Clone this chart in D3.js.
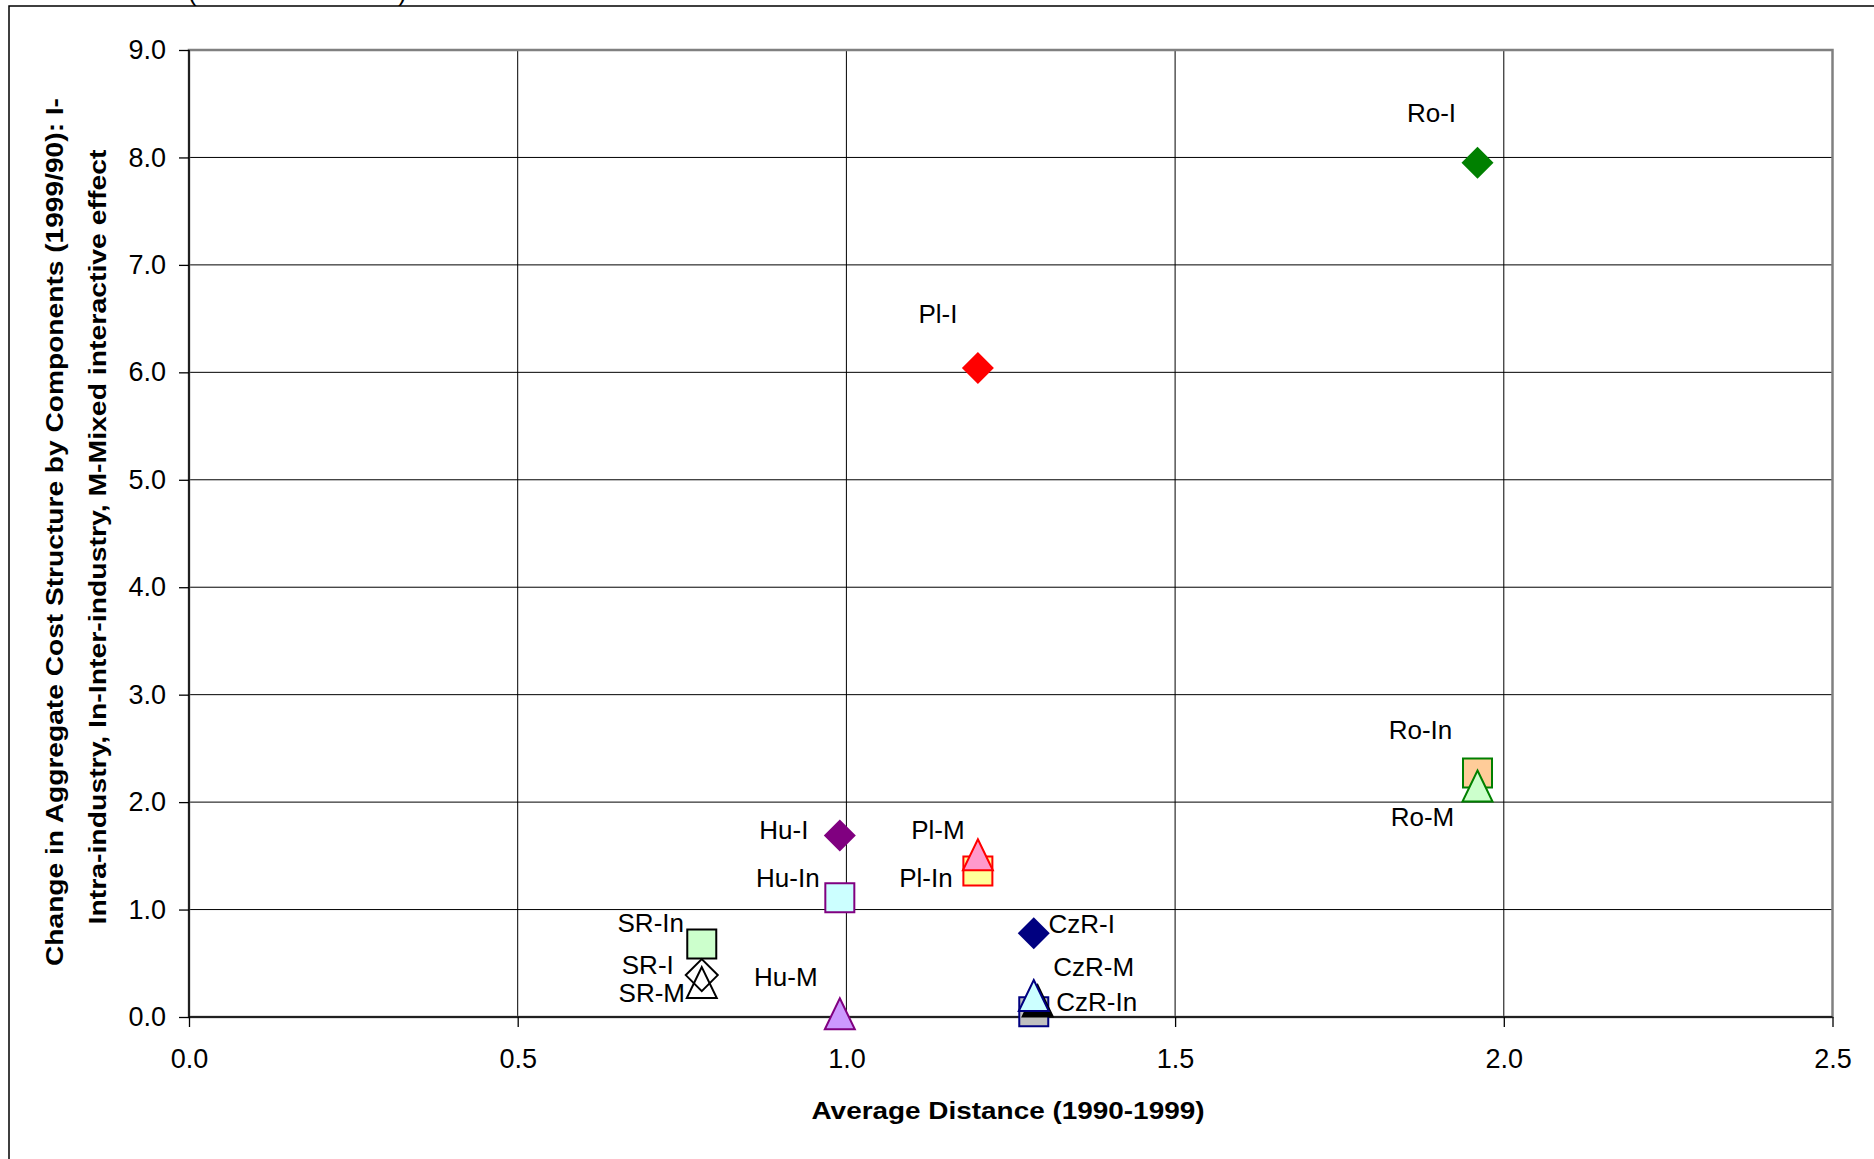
<!DOCTYPE html>
<html>
<head>
<meta charset="utf-8">
<script src="https://cdn.jsdelivr.net/npm/d3@7"></script>
<style>
  html, body { margin: 0; padding: 0; background: #fff; }
  svg { display: block; font-family: "Liberation Sans", Arial, sans-serif; }
</style>
</head>
<body>
<svg id="chart" width="1874" height="1159"></svg>
<script>
// ---- data ----
const pointLabels = ["Ro-In", "Pl-In", "Hu-In", "SR-In", "CzR-In",
                     "Ro-I", "Pl-I", "Hu-I", "SR-I", "CzR-I",
                     "", "Ro-M", "Pl-M", "Hu-M", "SR-M", "CzR-M"];
const xValues = [1.96, 1.20, 0.99, 0.78, 1.285,
                 1.96, 1.20, 0.99, 0.78, 1.285,
                 1.291, 1.96, 1.20, 0.99, 0.78, 1.285];
const yValues = [2.27, 1.36, 1.11, 0.68, 0.05,
                 7.95, 6.04, 1.69, 0.39, 0.78,
                 0.15, 2.15, 1.51, 0.03, 0.32, 0.20];
const markerTypes = ["square", "square", "square", "square", "square",
                     "diamond", "diamond", "diamond", "diamond", "diamond",
                     "triangle", "triangle", "triangle", "triangle", "triangle", "triangle"];
const xTicks = [0.0, 0.5, 1.0, 1.5, 2.0, 2.5];
const yTicks = [0, 1, 2, 3, 4, 5, 6, 7, 8, 9];
const xTitle = "Average Distance (1990-1999)";
const yTitleLines = ["Change in Aggregate Cost Structure by Components (1999/90): I-",
                     "Intra-industry, In-Inter-industry, M-Mixed interactive effect"];

// ---- styles (separate from data) ----
const markerFill = ["#FFCC99", "#FFFF99", "#CCFFFF", "#CCFFCC", "#C0C0C0",
                    "#008000", "#FF0000", "#800080", "none", "#000080",
                    "#000000", "#CCFFCC", "#FF99CC", "#CC99FF", "none", "#CCFFFF"];
const markerStroke = ["#008000", "#FF0000", "#800080", "#000000", "#000080",
                      "#008000", "#FF0000", "#800080", "#000000", "#000080",
                      "#000000", "#008000", "#FF0000", "#800080", "#000000", "#000080"];
// label offsets from marker centre, in pixels
const labelOffsets = [[-57, -43], [-52, 7], [-52, -20], [-51, -21], [63, -10],
                      [-46, -50], [-40, -54], [-56, -6], [-54, -10], [48, -10],
                      [0, 0], [-55, 31], [-40, -25], [-54, -37], [-50, 10], [60, -29]];

// ---- layout ----
const svg = d3.select("#chart");
const plot = { left: 189, right: 1832.5, top: 50, bottom: 1017 };

const x = d3.scaleLinear().domain([0, 2.5]).range([plot.left, plot.right]);
const y = d3.scaleLinear().domain([0, 9]).range([plot.bottom, plot.top]);

// outer chart frame (extends beyond the view)
svg.append("rect").attr("x", 9).attr("y", 6).attr("width", 1900).attr("height", 1200)
  .attr("fill", "none").attr("stroke", "#000").attr("stroke-width", 1.5);

// cut-off caption above the frame
svg.append("text").attr("x", 188).attr("y", 0.5).attr("font-size", 26).text("(");
svg.append("text").attr("x", 398).attr("y", 0.5).attr("font-size", 26).text(")");

// gridlines
svg.append("g").selectAll("line").data(yTicks.filter(d => d > 0 && d < 9)).join("line")
  .attr("x1", plot.left).attr("x2", plot.right)
  .attr("y1", d => y(d)).attr("y2", d => y(d))
  .attr("stroke", "#000").attr("stroke-width", 1);
svg.append("g").selectAll("line").data(xTicks.filter(d => d > 0 && d < 2.5)).join("line")
  .attr("y1", plot.top).attr("y2", plot.bottom)
  .attr("x1", d => x(d)).attr("x2", d => x(d))
  .attr("stroke", "#000").attr("stroke-width", 1);

// plot-area border
svg.append("rect").attr("x", plot.left).attr("y", plot.top)
  .attr("width", plot.right - plot.left).attr("height", plot.bottom - plot.top)
  .attr("fill", "none").attr("stroke", "#808080").attr("stroke-width", 2.5);

// axes
const yAxis = d3.axisLeft(y).tickValues(yTicks).tickFormat(d3.format(".1f"))
  .tickSize(10).tickPadding(13);
const gy = svg.append("g").attr("transform", `translate(${plot.left},0)`).call(yAxis);
const xAxis = d3.axisBottom(x).tickValues(xTicks).tickFormat(d3.format(".1f"))
  .tickSize(10).tickPadding(22);
const gx = svg.append("g").attr("transform", `translate(0,${plot.bottom})`).call(xAxis);
[gx, gy].forEach(g => {
  g.select(".domain").attr("stroke", "#000").attr("stroke-width", 1.5);
  g.selectAll(".tick line").attr("stroke", "#000").attr("stroke-width", 1.3);
  g.selectAll(".tick text").attr("font-size", 27).attr("fill", "#000")
    .attr("font-family", "'Liberation Sans', Arial, sans-serif");
});
gx.select(".domain").attr("d", `M${plot.left},0H${plot.right}`);
gy.select(".domain").attr("d", `M0,${plot.top}V${plot.bottom}`);

// axis titles
svg.append("text").attr("x", 1008).attr("y", 1119)
  .attr("text-anchor", "middle").attr("font-size", 24).attr("font-weight", "bold")
  .attr("textLength", 393).attr("lengthAdjust", "spacingAndGlyphs")
  .text(xTitle);
const yTitlePos = [{ cx: 63, cy: 532, len: 868 }, { cx: 106, cy: 537, len: 775 }];
yTitleLines.forEach((t, i) => {
  const p = yTitlePos[i];
  svg.append("text")
    .attr("transform", `translate(${p.cx},${p.cy}) rotate(-90)`)
    .attr("text-anchor", "middle").attr("font-size", 24).attr("font-weight", "bold")
    .attr("textLength", p.len).attr("lengthAdjust", "spacingAndGlyphs")
    .text(t);
});

// markers
const shapePath = {
  square: "M-14.5,-14.5H14.5V14.5H-14.5Z",
  diamond: "M0,-16L16,0L0,16L-16,0Z",
  triangle: "M0,-15.5L15,15.5L-15,15.5Z"
};
const idx = d3.range(pointLabels.length);
svg.append("g").selectAll("path").data(idx).join("path")
  .attr("transform", i => `translate(${x(xValues[i])},${y(yValues[i])})`)
  .attr("d", i => shapePath[markerTypes[i]])
  .attr("fill", i => markerFill[i])
  .attr("stroke", i => markerStroke[i])
  .attr("stroke-width", i => markerTypes[i] === "diamond" && markerFill[i] !== "none" ? 0 : 2);

// data labels
svg.append("g").selectAll("text").data(idx.filter(i => pointLabels[i] !== "")).join("text")
  .attr("x", i => x(xValues[i]) + labelOffsets[i][0])
  .attr("y", i => y(yValues[i]) + labelOffsets[i][1])
  .attr("dy", "0.36em")
  .attr("text-anchor", "middle").attr("font-size", 26).attr("fill", "#000")
  .text(i => pointLabels[i]);
</script>
</body>
</html>
